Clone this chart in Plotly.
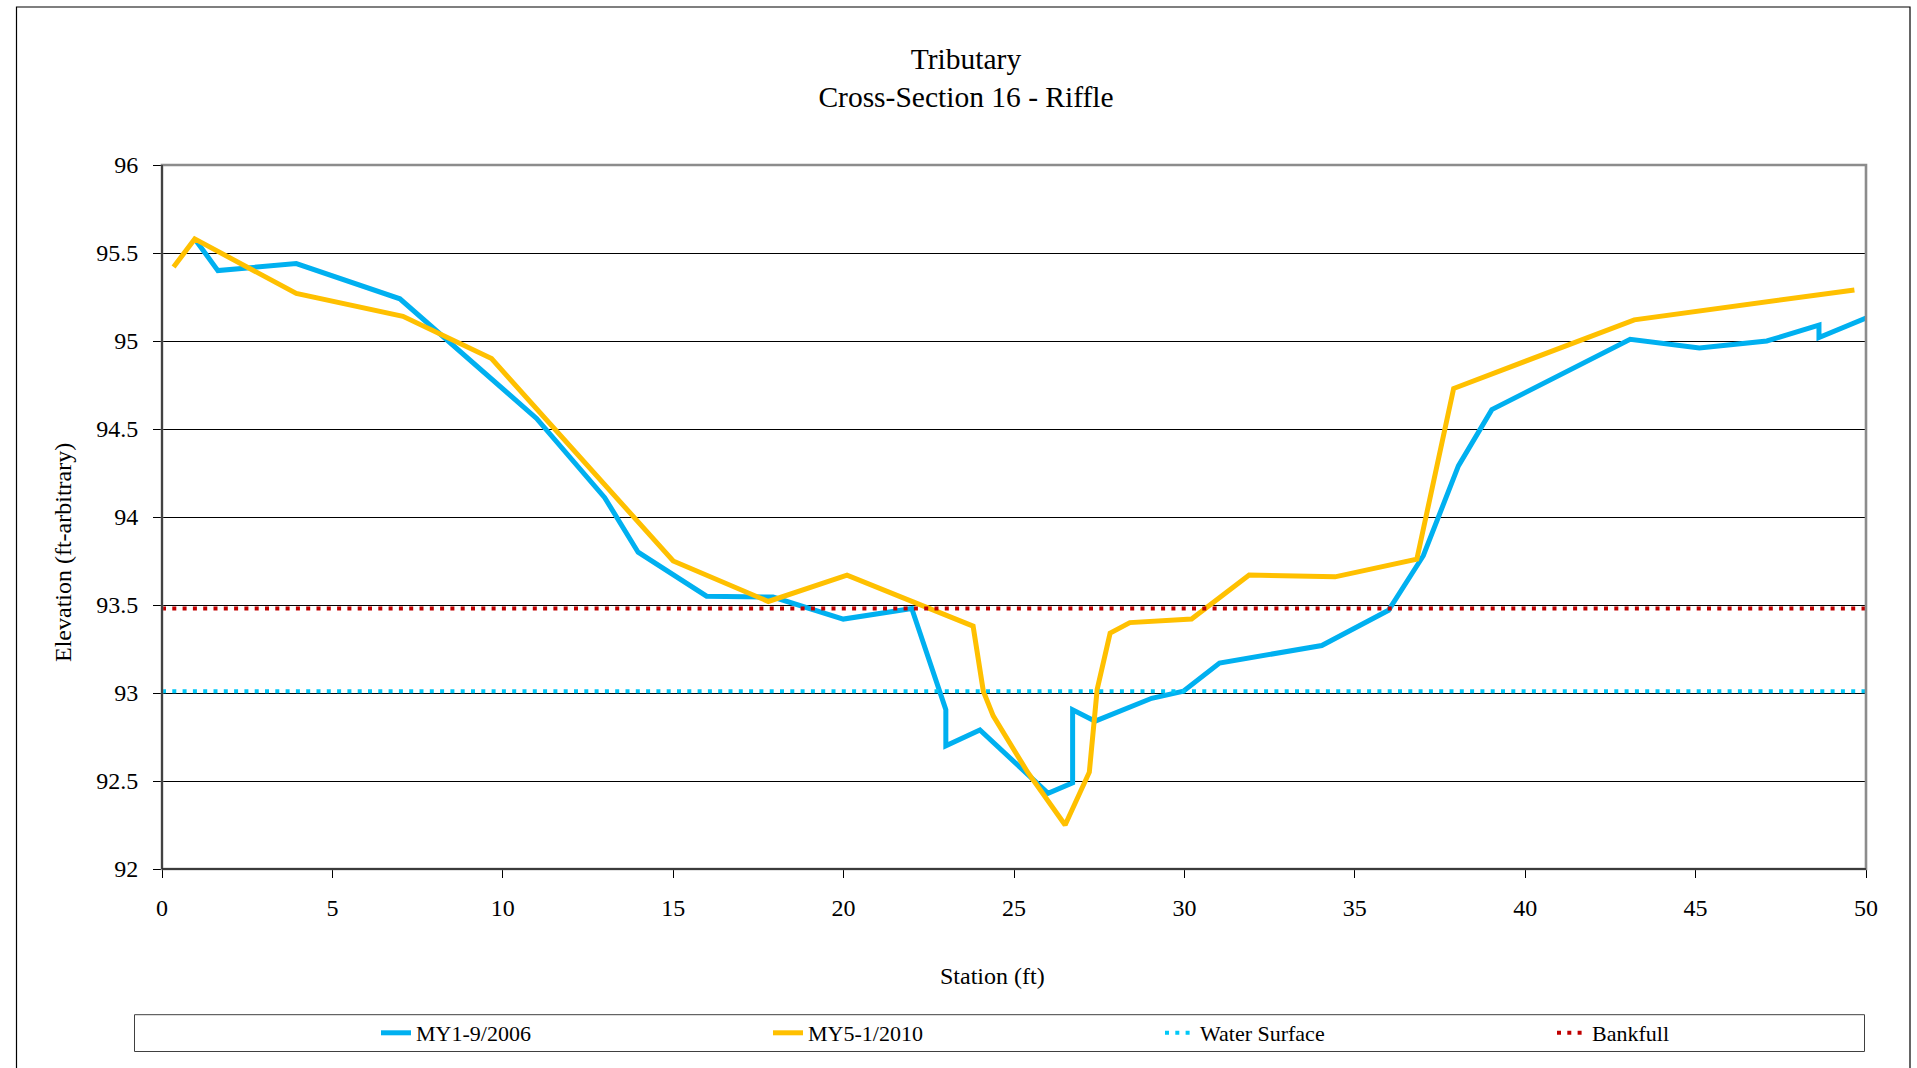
import plotly.graph_objects as go

# ---- data ----
my1_station = [1.0, 1.64, 3.94, 6.98, 10.99, 12.99, 13.97, 15.98, 17.93, 19.99, 22.0, 23.0, 23.0, 24.0,
               26.0, 26.72, 26.72, 27.38, 29.04, 29.97, 31.03, 34.03, 35.99, 37.01, 38.04, 39.02,
               43.08, 45.11, 47.09, 48.62, 48.62, 50.0]
my1_elev = [95.57, 95.40, 95.44, 95.24, 94.56, 94.11, 93.80, 93.55, 93.545, 93.42, 93.48, 92.905, 92.70, 92.79,
            92.43, 92.49, 92.905, 92.84, 92.97, 93.01, 93.17, 93.27, 93.47, 93.78, 94.29, 94.61,
            95.01, 94.96, 95.0, 95.09, 95.02, 95.13]

my5_station = [0.34, 0.96, 3.94, 7.07, 9.67, 15.0, 17.79, 20.1, 23.8, 24.1, 24.39, 25.4, 26.5, 27.21,
               27.44, 27.82, 28.4, 30.21, 31.9, 34.42, 36.82, 37.9, 43.2, 49.66]
my5_elev = [95.42, 95.58, 95.27, 95.14, 94.90, 93.75, 93.52, 93.67, 93.38, 93.01, 92.87, 92.55, 92.25, 92.55,
            93.02, 93.34, 93.40, 93.42, 93.67, 93.66, 93.76, 94.73, 95.12, 95.29]

ws_station = [0, 50]
ws_elev = [93.01, 93.01]

bkf_station = [0, 50]
bkf_elev = [93.48, 93.48]

x_ticks = [0, 5, 10, 15, 20, 25, 30, 35, 40, 45, 50]
y_ticks = [92, 92.5, 93, 93.5, 94, 94.5, 95, 95.5, 96]

# ---- layout geometry ----
W, H = 1917, 1068
L, R, T, B = 162, 51, 165, 199
PW, PH = W - L - R, H - T - B


def px(xp):
    return (xp - L) / PW


def py(yp):
    return (H - B - yp) / PH


FONT = "Liberation Serif, Times New Roman, serif"

fig = go.Figure()
fig.add_trace(go.Scatter(x=my1_station, y=my1_elev, mode="lines", name="MY1-9/2006",
                         line=dict(color="#00B0F0", width=5)))
fig.add_trace(go.Scatter(x=my5_station, y=my5_elev, mode="lines", name="MY5-1/2010",
                         line=dict(color="#FFC000", width=5)))
fig.add_trace(go.Scatter(x=ws_station, y=ws_elev, mode="lines", name="Water Surface",
                         line=dict(color="#00C8F8", width=4, dash="4px,6.3px")))
fig.add_trace(go.Scatter(x=bkf_station, y=bkf_elev, mode="lines", name="Bankfull",
                         line=dict(color="#C00000", width=4, dash="4px,6.3px")))

shapes = [
    # outer chart border
    dict(type="rect", xref="paper", yref="paper", x0=px(16.5), x1=px(1910), y0=py(1080), y1=py(7),
         line=dict(color="black", width=1.2), layer="below"),
    # plot-area border (gray)
    dict(type="rect", xref="paper", yref="paper", x0=0, x1=1, y0=0, y1=1,
         line=dict(color="#8c8c8c", width=2.6)),
    # left and bottom axis lines
    dict(type="line", xref="paper", yref="paper", x0=0, x1=0, y0=0, y1=1,
         line=dict(color="#303030", width=1.6)),
    dict(type="line", xref="paper", yref="paper", x0=0, x1=1, y0=0, y1=0,
         line=dict(color="#202020", width=1.6)),
    # legend box
    dict(type="rect", xref="paper", yref="paper", x0=px(134.5), x1=px(1864.5), y0=py(1051.5), y1=py(1014.7),
         line=dict(color="#404040", width=1)),
]

annotations = [
    dict(text="Station (ft)", xref="paper", yref="paper", x=px(992), y=py(976),
         xanchor="center", yanchor="middle", showarrow=False,
         font=dict(family=FONT, size=24, color="black")),
    dict(text="Elevation (ft-arbitrary)", xref="paper", yref="paper", x=px(63), y=py(553),
         xanchor="center", yanchor="middle", showarrow=False, textangle=-90,
         font=dict(family=FONT, size=24, color="black")),
]

fig.update_layout(
    width=W, height=H,
    margin=dict(l=L, r=R, t=T, b=B, pad=0, autoexpand=False),
    paper_bgcolor="white", plot_bgcolor="white",
    font=dict(family=FONT, color="black", size=22),
    title=dict(text="Tributary<br>Cross-Section 16 - Riffle",
               x=966 / W, xanchor="center", xref="container",
               y=1 - 68.5 / H, yanchor="middle", yref="container",
               font=dict(family=FONT, size=29.5, color="black")),
    xaxis=dict(range=[0, 50], tickvals=x_ticks, showgrid=False, zeroline=False,
               ticks="outside", ticklen=8, tickcolor="black", tickwidth=1,
               ticklabelstandoff=9, showline=False, automargin=False,
               tickfont=dict(family=FONT, size=24, color="black")),
    yaxis=dict(range=[92, 96], tickvals=y_ticks, showgrid=True, gridcolor="black", gridwidth=1,
               zeroline=False, ticks="outside", ticklen=8, tickcolor="black", tickwidth=1,
               ticklabelstandoff=10, showline=False, automargin=False,
               tickfont=dict(family=FONT, size=24, color="black")),
    legend=dict(orientation="h", x=px(376), xanchor="left", y=py(1033), yanchor="middle",
                entrywidth=347, entrywidthmode="pixels", bgcolor="rgba(0,0,0,0)",
                borderwidth=0, font=dict(family=FONT, size=22, color="black"), itemwidth=30,
                tracegroupgap=0),
    shapes=shapes,
    annotations=annotations,
    showlegend=True,
)

fig.write_html("out.html", config={"displayModeBar": False},
               post_script="document.body.style.margin='0px';")
